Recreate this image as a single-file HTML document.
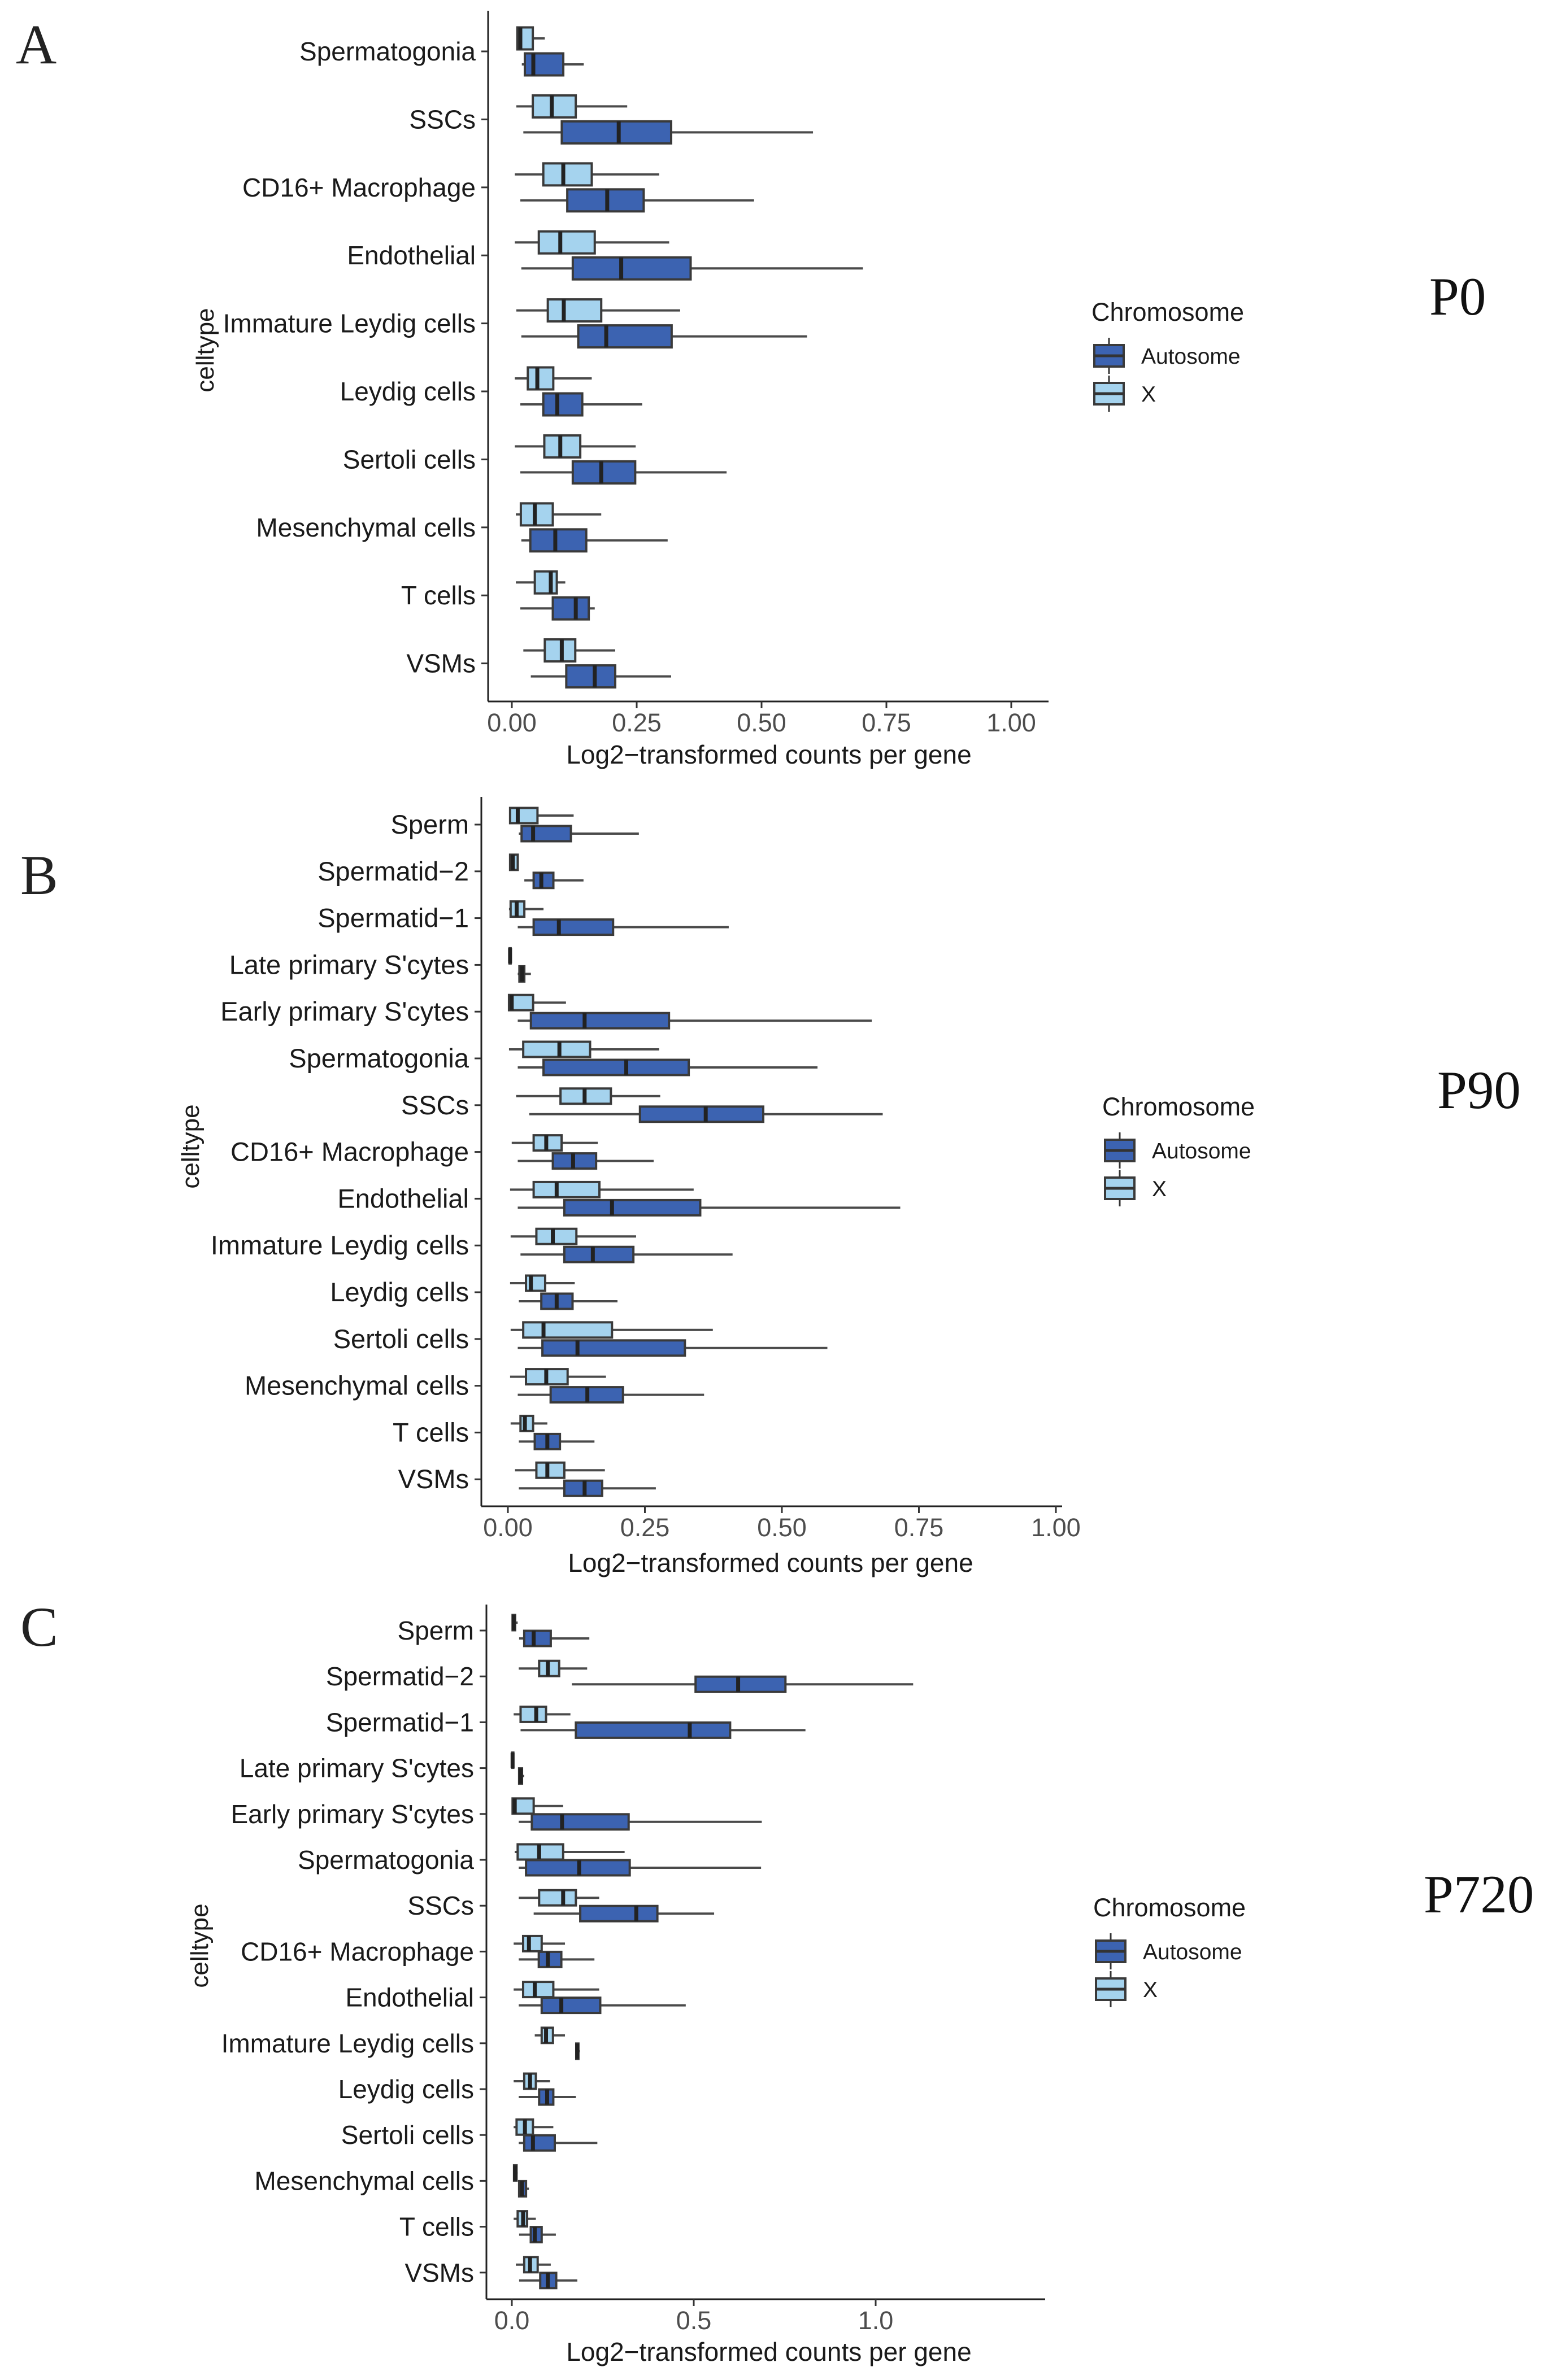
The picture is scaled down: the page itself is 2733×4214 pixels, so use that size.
<!DOCTYPE html>
<html><head><meta charset="utf-8"><style>
html,body{margin:0;padding:0;background:#fff;}
svg{display:block;}
text{font-family:"Liberation Sans",Arial,sans-serif;}
.serif{font-family:"Liberation Serif",serif;}
</style></head><body>
<svg id="fig" width="2733" height="4214" viewBox="0 0 2733 4214" xmlns="http://www.w3.org/2000/svg"></svg>
<script>
// ---- Panel A (P0) data: [lo, q1, median, q3, hi]
const catsA = ["Spermatogonia","SSCs","CD16+ Macrophage","Endothelial","Immature Leydig cells","Leydig cells","Sertoli cells","Mesenchymal cells","T cells","VSMs"];
const xA = [[.011,.011,.017,.042,.066],[.009,.042,.08,.128,.231],[.006,.063,.103,.16,.295],[.006,.054,.097,.166,.315],[.009,.072,.104,.179,.337],[.006,.032,.051,.083,.16],[.006,.065,.097,.137,.248],[.008,.018,.046,.082,.179],[.008,.046,.078,.09,.107],[.023,.066,.1,.127,.207]];
const autoA = [[.02,.026,.043,.103,.144],[.023,.1,.214,.319,.603],[.017,.111,.191,.264,.485],[.019,.122,.219,.358,.703],[.019,.133,.189,.32,.591],[.017,.063,.091,.141,.261],[.017,.122,.179,.247,.43],[.019,.037,.087,.149,.312],[.017,.082,.128,.154,.166],[.038,.109,.166,.207,.319]];
const ticksA = [0,0.25,0.5,0.75,1];
const tickLabelsA = ["0.00","0.25","0.50","0.75","1.00"];
// ---- Panel B (P90)
const catsB = ["Sperm","Spermatid\u22122","Spermatid\u22121","Late primary S'cytes","Early primary S'cytes","Spermatogonia","SSCs","CD16+ Macrophage","Endothelial","Immature Leydig cells","Leydig cells","Sertoli cells","Mesenchymal cells","T cells","VSMs"];
const xB = [[.004,.004,.018,.054,.12],[.004,.004,.009,.018,.02],[.002,.005,.016,.03,.065],[.002,.003,.004,.005,.007],[.001,.002,.007,.046,.106],[.002,.028,.094,.15,.276],[.015,.096,.14,.188,.278],[.007,.047,.07,.098,.164],[.004,.047,.089,.167,.339],[.005,.052,.082,.125,.234],[.004,.033,.042,.068,.122],[.005,.028,.065,.19,.374],[.004,.033,.07,.109,.179],[.005,.023,.031,.046,.072],[.013,.052,.072,.103,.177]];
const autoB = [[.02,.025,.046,.115,.239],[.03,.047,.061,.083,.138],[.018,.047,.093,.192,.403],[.018,.021,.026,.03,.042],[.018,.042,.14,.294,.664],[.018,.065,.216,.33,.565],[.039,.241,.361,.466,.684],[.018,.082,.119,.161,.266],[.018,.103,.19,.351,.716],[.023,.103,.155,.229,.41],[.02,.061,.089,.118,.2],[.018,.063,.127,.323,.583],[.018,.078,.145,.21,.358],[.02,.049,.072,.095,.158],[.02,.103,.14,.172,.27]];
const ticksB = [0,0.25,0.5,0.75,1];
const tickLabelsB = ["0.00","0.25","0.50","0.75","1.00"];
// ---- Panel C (P720)
const catsC = catsB.slice();
const xC = [[0,.002,.005,.009,.016],[.019,.075,.099,.13,.207],[.005,.024,.067,.094,.161],[0,.001,.002,.003,.004],[0,.002,.008,.06,.141],[.008,.016,.075,.141,.31],[.019,.075,.141,.176,.24],[.005,.031,.047,.082,.146],[.005,.031,.063,.114,.24],[.063,.082,.094,.113,.146],[.005,.034,.05,.066,.105],[.005,.013,.036,.058,.114],[.005,.006,.009,.013,.016],[.005,.016,.031,.042,.066],[.011,.034,.05,.071,.107]];
const autoC = [[.02,.034,.06,.107,.213],[.165,.505,.622,.752,1.103],[.024,.176,.489,.6,.807],[.019,.02,.024,.028,.034],[.019,.055,.138,.321,.687],[.019,.039,.185,.324,.685],[.06,.188,.342,.4,.556],[.019,.074,.099,.136,.227],[.019,.082,.136,.243,.478],[.177,.177,.18,.183,.187],[.019,.075,.097,.114,.176],[.019,.034,.058,.118,.235],[.019,.02,.028,.039,.047],[.02,.052,.063,.082,.121],[.02,.078,.099,.122,.18]];
const ticksC = [0,0.5,1];
const tickLabelsC = ["0.0","0.5","1.0"];

const NS = "http://www.w3.org/2000/svg";
const svg = document.getElementById('fig');
function mk(tag, attrs, parent){
  const e = document.createElementNS(NS, tag);
  for (const k in attrs) e.setAttribute(k, attrs[k]);
  (parent||svg).appendChild(e);
  return e;
}
const AUTO_FILL = "#3c63b1", X_FILL = "#a5d3ee";

function panel(p){
  const g = mk('g', {});
  
  
  const sx = v => p.x0 + v * p.xs;
  const sy = i => p.yFirst + i * p.step;
  const ya = mk('line', {x1:p.ax, y1:p.top, x2:p.ax, y2:p.bottom, stroke:"#222", 'stroke-width':3}, g);
  
  
  const xa = mk('line', {x1:p.ax, y1:p.bottom, x2:p.right, y2:p.bottom, stroke:"#222", 'stroke-width':3}, g);
  
  
  p.ticks.forEach((t, i) => {
    const tl = mk('line', {x1:sx(t), y1:p.bottom, x2:sx(t), y2:p.bottom+12, stroke:"#333", 'stroke-width':3}, g);
    
    
    const tx = mk('text', {x:sx(t), y:p.bottom+53, 'text-anchor':'middle', 'font-size':45, fill:'#4d4d4d'}, g);
    tx.textContent = p.tickLabels[i];
    
    
  });
  p.cats.forEach((c, i) => {
    const y = sy(i);
    const tk = mk('line', {x1:p.ax-12, y1:y, x2:p.ax, y2:y, stroke:"#333", 'stroke-width':3}, g);
    
    
    const lb = mk('text', {x:p.ax-22, y:y+16, 'text-anchor':'end', 'font-size':p.fs, fill:'#1a1a1a'}, g);
    lb.textContent = c;
    
    
    [[p.xData[i], X_FILL, -p.off, 'x'], [p.autoData[i], AUTO_FILL, p.off, 'autosome']].forEach(s => {
      const d = s[0], cy = y + s[2], h = p.bh;
      const bg = mk('g', {}, g);
      
      
      mk('line', {x1:sx(d[0]), y1:cy, x2:sx(d[4]), y2:cy, stroke:"#4a4a4a", 'stroke-width':4}, bg);
      mk('rect', {x:sx(d[1]), y:cy-h/2, width:Math.max(2, sx(d[3])-sx(d[1])), height:h, fill:s[1], stroke:"#3a3a3a", 'stroke-width':4}, bg);
      mk('line', {x1:sx(d[2]), y1:cy-h/2, x2:sx(d[2]), y2:cy+h/2, stroke:"#222", 'stroke-width':7}, bg);
    });
  });
  const ct = mk('text', {x:0, y:0, 'text-anchor':'middle', 'font-size':44, fill:'#1a1a1a', transform:`translate(${p.ctx},${p.cty}) rotate(-90)`}, g);
  ct.textContent = "celltype";
  
  
  const xt = mk('text', {x:p.titleX, y:p.titleY, 'text-anchor':'middle', 'font-size':46, fill:'#1a1a1a'}, g);
  xt.textContent = "Log2\u2212transformed counts per gene";
  
  
  const lg = mk('g', {}, g);
  
  
  const lt = mk('text', {x:p.lx, y:p.ly, 'font-size':45, fill:'#1a1a1a'}, lg);
  lt.textContent = "Chromosome";
  [["Autosome", AUTO_FILL, 0], ["X", X_FILL, 1]].forEach(e => {
    const ky = p.ly + 62 + e[2]*67;
    const eg = mk('g', {}, lg);
    
    
    mk('line', {x1:p.lx+31, y1:ky-32, x2:p.lx+31, y2:ky+32, stroke:"#333", 'stroke-width':3}, eg);
    mk('rect', {x:p.lx+5, y:ky-19, width:52, height:38, fill:e[1], stroke:"#3a3a3a", 'stroke-width':4}, eg);
    mk('line', {x1:p.lx+5, y1:ky, x2:p.lx+57, y2:ky, stroke:"#333", 'stroke-width':5}, eg);
    const et = mk('text', {x:p.lx+88, y:ky+14, 'font-size':39, fill:'#1a1a1a'}, eg);
    et.textContent = e[0];
  });
  const L = mk('text', {x:p.letterX, y:p.letterY, 'font-size':100, fill:'#222', class:'serif'}, g);
  L.textContent = p.id;
  
  
  const P = mk('text', {x:p.px, y:p.py, 'font-size':95, fill:'#111', class:'serif'}, g);
  P.textContent = p.pLabel;
  
  
}

panel({id:'A', cats:catsA, xData:xA, autoData:autoA, ticks:ticksA, tickLabels:tickLabelsA,
  ax:864, top:19, bottom:1242, right:1856, x0:906, xs:884, yFirst:91, step:120.4, off:23, bh:39, fs:46,
  ctx:378, cty:620, titleX:1361, titleY:1352, lx:1932, ly:568, letterX:28, letterY:112, px:2530, py:557, pLabel:'P0'});
panel({id:'B', cats:catsB, xData:xB, autoData:autoB, ticks:ticksB, tickLabels:tickLabelsB,
  ax:852, top:1411, bottom:2667, right:1880, x0:899, xs:970, yFirst:1460, step:82.8, off:16, bh:27, fs:47,
  ctx:352, cty:2030, titleX:1364, titleY:2783, lx:1951, ly:1975, letterX:36, letterY:1583, px:2544, py:1962, pLabel:'P90'});
panel({id:'C', cats:catsC, xData:xC, autoData:autoC, ticks:ticksC, tickLabels:tickLabelsC,
  ax:861, top:2841, bottom:4071, right:1850, x0:906, xs:644, yFirst:2887, step:81.2, off:14, bh:27, fs:46,
  ctx:368, cty:3445, titleX:1361, titleY:4180, lx:1935, ly:3393, letterX:36, letterY:2914, px:2520, py:3386, pLabel:'P720'});
</script>
</body></html>
